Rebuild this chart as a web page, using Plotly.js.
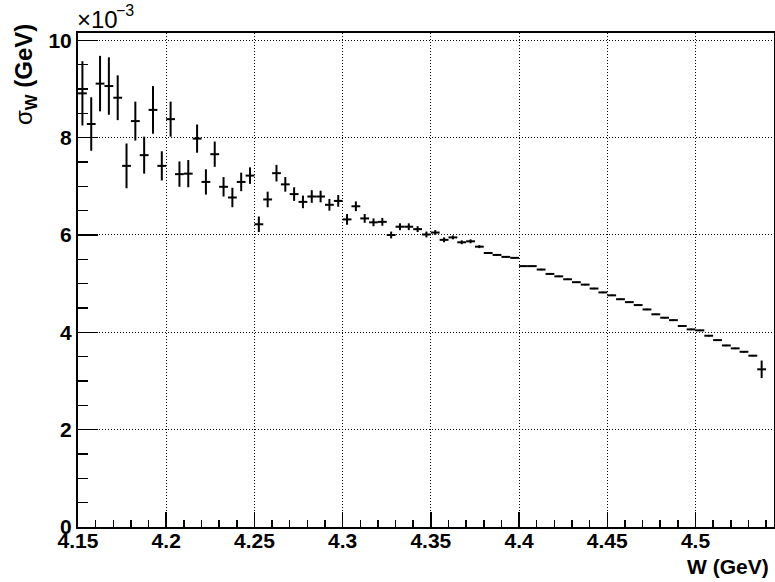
<!DOCTYPE html>
<html>
<head>
<meta charset="utf-8">
<script src="https://cdn.plot.ly/plotly-3.0.1.min.js"></script>
<style>html,body{margin:0;padding:0;background:#fff;}#chart{width:775px;height:582px;}</style>
</head>
<body>
<div id="chart"></div>
<script>
// Bin centres W (GeV), bin width 0.005 GeV
const W = [4.1525,4.1575,4.1625,4.1675,4.1725,4.1775,4.1825,4.1875,4.1925,4.1975,
4.2025,4.2075,4.2125,4.2175,4.2225,4.2275,4.2325,4.2375,4.2425,4.2475,
4.2525,4.2575,4.2625,4.2675,4.2725,4.2775,4.2825,4.2875,4.2925,4.2975,
4.3025,4.3075,4.3125,4.3175,4.3225,4.3275,4.3325,4.3375,4.3425,4.3475,
4.3525,4.3575,4.3625,4.3675,4.3725,4.3775,4.3825,4.3875,4.3925,4.3975,
4.4025,4.4075,4.4125,4.4175,4.4225,4.4275,4.4325,4.4375,4.4425,4.4475,
4.4525,4.4575,4.4625,4.4675,4.4725,4.4775,4.4825,4.4875,4.4925,4.4975,
4.5025,4.5075,4.5125,4.5175,4.5225,4.5275,4.5325,4.5375];
// sigma_W in units of 1e-3 GeV
const sigmaW = [8.91,8.28,9.11,9.06,8.82,7.42,8.34,7.64,8.57,7.42,
8.38,7.25,7.26,7.98,7.09,7.66,6.99,6.77,7.09,7.22,
6.22,6.73,7.27,7.04,6.84,6.68,6.79,6.79,6.62,6.70,
6.32,6.59,6.34,6.26,6.27,6.00,6.17,6.17,6.12,6.01,
6.05,5.90,5.95,5.85,5.87,5.76,5.63,5.59,5.55,5.53,
5.36,5.36,5.29,5.20,5.15,5.09,5.03,4.98,4.90,4.82,
4.76,4.68,4.62,4.56,4.47,4.37,4.30,4.25,4.13,4.06,
4.04,3.93,3.84,3.73,3.67,3.60,3.52,3.24];
const sigmaErr = [0.66,0.55,0.57,0.59,0.46,0.46,0.40,0.38,0.49,0.30,
0.36,0.26,0.28,0.29,0.26,0.26,0.20,0.20,0.19,0.17,
0.16,0.16,0.17,0.15,0.14,0.13,0.13,0.12,0.12,0.12,
0.11,0.10,0.09,0.08,0.08,0.07,0.07,0.07,0.06,0.06,
0.05,0.05,0.04,0.04,0.04,0.03,0.015,0.015,0.015,0.015,
0.015,0.015,0.015,0.015,0.015,0.015,0.015,0.015,0.015,0.015,
0.015,0.015,0.015,0.015,0.015,0.015,0.015,0.015,0.015,0.015,
0.015,0.015,0.015,0.015,0.015,0.015,0.015,0.18];
const halfBin = 0.0025;
const xTicks = [4.15,4.2,4.25,4.3,4.35,4.4,4.45,4.5];
const xTickText = ["4.15","4.2","4.25","4.3","4.35","4.4","4.45","4.5"];
const yTicks = [0,2,4,6,8,10];
const yTickText = ["0","2","4","6","8","10"];

const fontFam = "Liberation Sans";
const bold = s => '<b>' + s + '</b>';

const trace = {
  x: W, y: sigmaW, type: 'scatter', mode: 'markers',
  marker: {size: 0.1, color: 'black'},
  error_y: {type: 'data', array: sigmaErr, visible: true, color: 'black', thickness: 2, width: 0},
  error_x: {type: 'constant', value: halfBin, visible: true, color: 'black', thickness: 2, width: 0},
  hoverinfo: 'x+y'
};

const layout = {
  width: 775, height: 582,
  margin: {l: 78, r: 1, t: 33, b: 55},
  paper_bgcolor: 'white', plot_bgcolor: 'white',
  showlegend: false,
  font: {family: fontFam, color: 'black'},
  xaxis: {
    range: [4.15, 4.5445], tickvals: xTicks, ticktext: xTickText.map(bold),
    ticks: 'inside', ticklen: 15, tickwidth: 1.5, tickcolor: 'black',
    ticklabelstandoff: -6,
    showline: true, linecolor: 'black', linewidth: 2, mirror: true,
    showgrid: true, gridcolor: 'black', gridwidth: 1, griddash: '1px,2px',
    zeroline: false,
    tickfont: {family: fontFam, size: 21, weight: 'bold', color: 'black'},
    minor: {dtick: 0.01, tick0: 4.15, ticks: 'inside', ticklen: 7, tickwidth: 1.5, tickcolor: 'black', showgrid: false}
  },
  yaxis: {
    range: [0, 10.15], tickvals: yTicks, ticktext: yTickText.map(bold),
    ticks: 'inside', ticklen: 20, tickwidth: 1.5, tickcolor: 'black',
    showline: true, linecolor: 'black', linewidth: 2, mirror: true,
    showgrid: true, gridcolor: 'black', gridwidth: 1, griddash: '1px,2px',
    zeroline: false,
    tickfont: {family: fontFam, size: 21, weight: 'bold', color: 'black'},
    minor: {dtick: 0.5, tick0: 0, ticks: 'inside', ticklen: 10, tickwidth: 1.5, tickcolor: 'black', showgrid: false}
  },
  annotations: [
    {text: '×10', xref: 'paper', yref: 'paper', x: 0, y: 1, xanchor: 'left', yanchor: 'bottom',
     xshift: -3, yshift: -2, showarrow: false, font: {family: fontFam, size: 24, color: 'black'}},
    {text: '\u22123', xref: 'paper', yref: 'paper', x: 0, y: 1, xanchor: 'left', yanchor: 'bottom',
     xshift: 36, yshift: 12, showarrow: false, font: {family: fontFam, size: 16, color: 'black'}},
    {text: '<b>W (GeV)</b>', xref: 'paper', yref: 'paper', x: 1, y: 0, xanchor: 'right', yanchor: 'top',
     xshift: -3, yshift: -26, showarrow: false, font: {family: fontFam, size: 21, weight: 'bold', color: 'black'}},
    {text: 'σ<sub><b>W</b></sub><b> (GeV)</b>', xref: 'paper', yref: 'paper', x: 0, y: 1, xanchor: 'right', yanchor: 'top',
     textangle: -90, xshift: -35, yshift: 11, showarrow: false, font: {family: fontFam, size: 24, color: 'black'}}
  ]
};

Plotly.newPlot('chart', [trace], layout, {displayModeBar: false, staticPlot: true});
</script>
</body>
</html>
